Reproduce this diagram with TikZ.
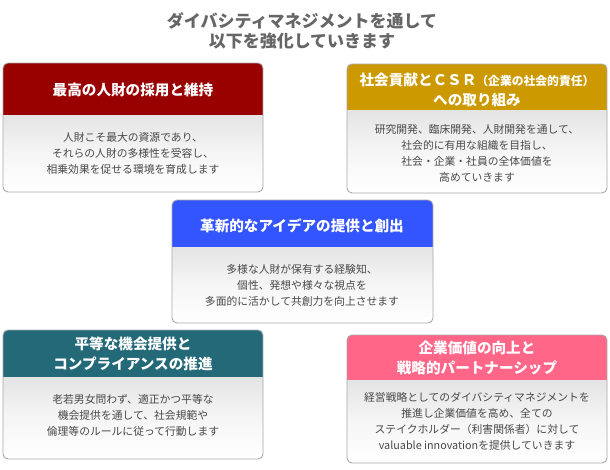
\documentclass[tikz,border=0pt]{standalone}
\usepackage{fontspec}
\setmainfont{Noto Sans CJK JP}
\definecolor{hred}{HTML}{990000}
\definecolor{hgold}{HTML}{CC9900}
\definecolor{hblue}{HTML}{3355FF}
\definecolor{hteal}{HTML}{236977}
\definecolor{hpink}{HTML}{FF6688}
\definecolor{bordergray}{HTML}{A8A8A8}
\definecolor{bodytext}{HTML}{484848}
\definecolor{titletext}{HTML}{666666}
\definecolor{shadetop}{HTML}{E4E4E4}
\newcommand\divcard[6]{%
  \begin{scope}
    \clip[rounded corners=5pt] (#1,#2) rectangle (#3,#4);
    \shade[top color=shadetop, bottom color=white, middle color=shadetop!35] (#1,#5) rectangle (#3,#4);
    \fill[#6] (#1,#2) rectangle (#3,#5);
  \end{scope}
  \draw[bordergray, line width=0.9pt, rounded corners=5pt] (#1,#2) rectangle (#3,#4);
}
\tikzset{
  headtext/.style={text=white, align=center, font=\bfseries\fontsize{14.6}{19.5}\selectfont, inner sep=0pt},
  bodytxt/.style={text=bodytext, align=center, font=\fontsize{10.8}{16}\selectfont, inner sep=0pt},
  titletxt/.style={text=titletext, align=center, font=\bfseries\fontsize{17}{19.5}\selectfont, inner sep=0pt}
}
\begin{document}
\begin{tikzpicture}[x=1pt,y=-1pt]
\useasboundingbox (0,0) rectangle (610,470);
\fill[white] (0,0) rectangle (610,470);

\node[titletxt] (title) at (302,31) {ダイバシティマネジメントを通して\\以下を強化していきます};

% box 1
\divcard{3}{63}{263}{192}{115}{hred}
\node[headtext] (h1) at (133,90) {最高の人財の採用と維持};
\node[bodytxt] (b1) at (133,153) {人財こそ最大の資源であり、\\それらの人財の多様性を受容し、\\相乗効果を促せる環境を育成します};

% box 2
\divcard{347}{64}{607}{193}{110}{hgold}
\node[headtext] (h2) at (477,90) {社会貢献とＣＳＲ{\fontsize{11.8}{19.5}\selectfont （企業の社会的責任）}\\への取り組み};
\node[bodytxt] (b2) at (477,153) {研究開発、臨床開発、人財開発を通して、\\社会的に有用な組織を目指し、\\社会・企業・社員の全体価値を\\高めていきます};

% box 3
\divcard{172}{200}{433}{323}{247}{hblue}
\node[headtext] (h3) at (302,226) {革新的なアイデアの提供と創出};
\node[bodytxt] (b3) at (302,285) {多様な人財が保有する経験知、\\個性、発想や様々な視点を\\多面的に活かして共創力を向上させます};

% box 4
\divcard{3}{330}{263}{459}{377}{hteal}
\node[headtext] (h4) at (133,354) {平等な機会提供と\\コンプライアンスの推進};
\node[bodytxt] (b4) at (133,415) {老若男女問わず、適正かつ平等な\\機会提供を通して、社会規範や\\倫理等のルールに従って行動します};

% box 5
\divcard{347}{335}{607}{463}{380}{hpink}
\node[headtext] (h5) at (477,358) {企業価値の向上と\\戦略的パートナーシップ};
\node[bodytxt] (b5) at (477,421) {経営戦略としてのダイバシティマネジメントを\\推進し企業価値を高め、全ての\\ステイクホルダー（利害関係者）に対して\\valuable innovationを提供していきます};
\end{tikzpicture}
\end{document}
